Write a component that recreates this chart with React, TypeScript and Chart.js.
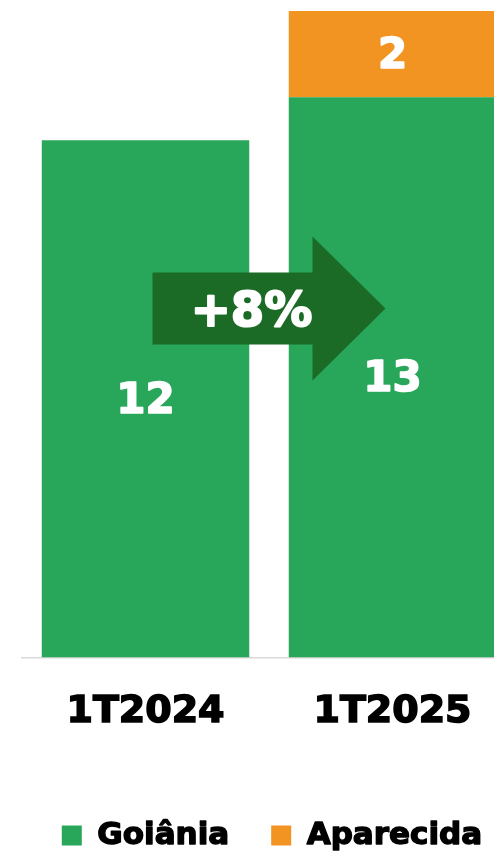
import React, { useEffect, useRef } from "react";
import { Chart, registerables } from "chart.js";

Chart.register(...registerables);

const categories = ["1T2024", "1T2025"];
const goiania = [12, 13];
const aparecida: (number | null)[] = [null, 2];
const seriesNames = ["Goiânia", "Aparecida"];
const growthLabel = "+8%";
const growthArrowLevel = 8.1;
const yMax = 15;

const FONT = '"DejaVu Sans", Verdana, sans-serif';
const GREEN = "#28A65A";
const ORANGE = "#F29422";
const DARK_GREEN = "#1B6B26";
const LEGEND_SIZE = 31;

const overlayPlugin = {
  id: "overlay",
  afterDatasetsDraw(chart: any) {
    const ctx = chart.ctx;
    const xs = chart.scales.x;
    const ys = chart.scales.y;
    ctx.save();
    // growth arrow between the two bars
    const x0 = xs.getPixelForValue(0);
    const x1 = xs.getPixelForValue(1);
    const yc = ys.getPixelForValue(growthArrowLevel);
    const bodyLeft = x0 + 7;
    const tip = x1 - 7;
    const headBase = tip - 73;
    const bh = 36;
    const hh = 72;
    ctx.fillStyle = DARK_GREEN;
    ctx.beginPath();
    ctx.moveTo(bodyLeft, yc - bh);
    ctx.lineTo(headBase, yc - bh);
    ctx.lineTo(headBase, yc - hh);
    ctx.lineTo(tip, yc);
    ctx.lineTo(headBase, yc + hh);
    ctx.lineTo(headBase, yc + bh);
    ctx.lineTo(bodyLeft, yc + bh);
    ctx.closePath();
    ctx.fill();
    ctx.fillStyle = "#ffffff";
    ctx.strokeStyle = "#ffffff";
    ctx.lineJoin = "round";
    ctx.textAlign = "center";
    ctx.textBaseline = "middle";
    ctx.font = `bold 48px ${FONT}`;
    ctx.lineWidth = 2;
    ctx.strokeText(growthLabel, bodyLeft + 99, yc + 5);
    ctx.fillText(growthLabel, bodyLeft + 99, yc + 5);

    // value labels
    ctx.font = `bold 42px ${FONT}`;
    ctx.lineWidth = 1.6;
    chart.data.datasets.forEach((ds: any, di: number) => {
      const meta = chart.getDatasetMeta(di);
      meta.data.forEach((el: any, i: number) => {
        const v = ds.data[i];
        if (v == null) return;
        const p = el.getProps(["x", "y", "base"], true);
        const ty = (p.y + p.base) / 2 + 3;
        ctx.strokeText(String(v), p.x, ty);
        ctx.fillText(String(v), p.x, ty);
      });
    });
    ctx.restore();
  },
  afterDraw(chart: any) {
    // thicken legend text weight to match the heavy bold face
    const lg = chart.legend;
    if (!lg || !lg.legendHitBoxes) return;
    const ctx = chart.ctx;
    ctx.save();
    ctx.font = `bold ${LEGEND_SIZE}px ${FONT}`;
    ctx.strokeStyle = "#000";
    ctx.lineWidth = 1.4;
    ctx.lineJoin = "round";
    ctx.textAlign = "left";
    ctx.textBaseline = "middle";
    lg.legendItems.forEach((item: any, i: number) => {
      const hb = lg.legendHitBoxes[i];
      ctx.strokeText(item.text, hb.left + 20 + LEGEND_SIZE / 2, hb.top + hb.height / 2);
    });
    ctx.restore();
  },
};

export default function App() {
  const ref = useRef<HTMLCanvasElement | null>(null);
  useEffect(() => {
    if (!ref.current) return;
    const chart = new Chart(ref.current, {
      type: "bar",
      data: {
        labels: categories,
        datasets: [
          {
            label: seriesNames[0],
            data: goiania,
            backgroundColor: GREEN,
            borderWidth: 0,
          },
          {
            label: seriesNames[1],
            data: aparecida as any,
            backgroundColor: ORANGE,
            borderWidth: 0,
          },
        ],
      },
      options: {
        responsive: false,
        animation: false,
        devicePixelRatio: 1,
        layout: { padding: { top: 11, left: 0, right: 0, bottom: 0 } },
        datasets: {
          bar: { categoryPercentage: 1, barPercentage: 0.84 },
        },
        scales: {
          x: {
            stacked: true,
            grid: { display: false, drawTicks: false },
            border: { display: true, color: "#d9d9d9", width: 1.5 },
            ticks: {
              color: "#000",
              padding: 32,
              textStrokeColor: "#000",
              textStrokeWidth: 1.6,
              font: { family: FONT, size: 38, weight: "bold" },
            },
            afterFit: (s: any) => {
              s.height = 120.5;
            },
          },
          y: {
            stacked: true,
            min: 0,
            max: yMax,
            position: "left",
            grid: { display: false, drawTicks: false },
            border: { display: false },
            ticks: { display: false },
            afterFit: (s: any) => {
              s.width = 22;
            },
          },
          y2: {
            min: 0,
            max: yMax,
            position: "right",
            grid: { display: false, drawTicks: false },
            border: { display: false },
            ticks: { display: false },
            afterFit: (s: any) => {
              s.width = 28;
            },
          },
        },
        plugins: {
          legend: {
            display: true,
            position: "bottom",
            labels: {
              boxWidth: 20,
              boxHeight: 20,
              padding: 42,
              color: "#000",
              font: { family: FONT, size: LEGEND_SIZE, weight: "bold" },
            },
          },
          tooltip: { enabled: false },
        },
      },
      plugins: [overlayPlugin],
    });
    return () => chart.destroy();
  }, []);

  return (
    <div
      style={{
        position: "fixed",
        left: 0,
        top: 0,
        width: 494,
        height: 855,
        overflow: "hidden",
        background: "#fff",
      }}
    >
      <canvas ref={ref} width={544} height={861} style={{ display: "block" }} />
    </div>
  );
}
